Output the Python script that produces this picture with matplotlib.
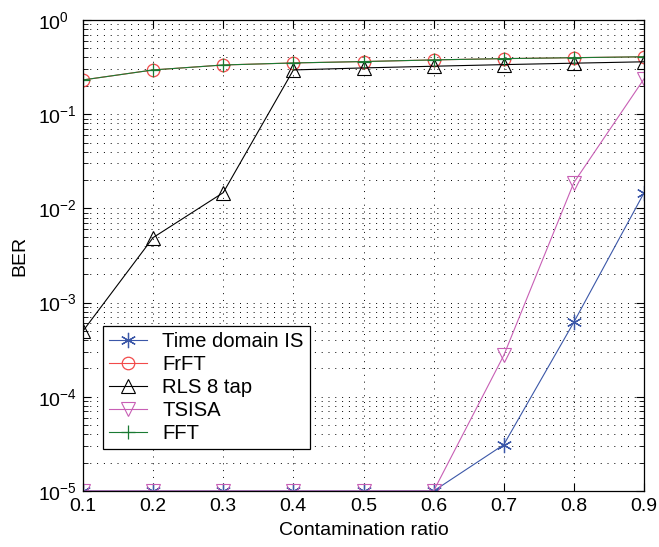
import matplotlib
matplotlib.use("Agg")
import matplotlib.pyplot as plt
from matplotlib.ticker import LogLocator, NullFormatter

plt.rcParams['font.family'] = ['Liberation Sans', 'DejaVu Sans']
plt.rcParams['mathtext.fontset'] = 'custom'
plt.rcParams['mathtext.rm'] = 'Liberation Sans'
plt.rcParams['mathtext.it'] = 'Liberation Sans:italic'

x = [0.1, 0.2, 0.3, 0.4, 0.5, 0.6, 0.7, 0.8, 0.9]
time_is = [1e-5, 1e-5, 1e-5, 1e-5, 1e-5, 1e-5, 3.1e-5, 6.2e-4, 0.0146]
frft = [0.231, 0.295, 0.333, 0.35, 0.362, 0.377, 0.389, 0.398, 0.407]
rls = [5.0e-4, 4.9e-3, 0.0147, 0.295, 0.31, 0.323, 0.336, 0.348, 0.36]
tsisa = [1e-5, 1e-5, 1e-5, 1e-5, 1e-5, 1e-5, 2.75e-4, 0.0188, 0.237]
fft = [0.231, 0.295, 0.333, 0.35, 0.362, 0.377, 0.389, 0.398, 0.407]
labels = ['Time domain IS', 'FrFT', 'RLS 8 tap', 'TSISA', 'FFT']
xticks = [0.1, 0.2, 0.3, 0.4, 0.5, 0.6, 0.7, 0.8, 0.9]

W, H = 659, 547
fig = plt.figure(figsize=(W / 100, H / 100), dpi=100)
L, R, T, B = 83, 644, 20, 491
ax = fig.add_axes([L / W, 1 - B / H, (R - L) / W, (B - T) / H])

lw = 0.8
ax.plot(x, time_is, color='#3b57a8', marker=(6, 2, 0), ms=11, mew=0.9, lw=lw, label=labels[0])
ax.plot(x, frft, color='#f24a4a', marker='o', ms=9, mfc='none', mew=0.9, lw=lw, label=labels[1])
ax.plot(x, rls, color='black', marker='^', ms=10, mfc='none', mew=0.8, lw=lw, label=labels[2])
ax.plot(x, tsisa, color='#c85fb5', marker='v', ms=10, mfc='none', mew=0.8, lw=lw, label=labels[3])
ax.plot(x, fft, color='#1a7a33', marker='+', ms=10, mew=0.9, lw=lw, label=labels[4])

ax.set_yscale('log')
ax.set_xlim(0.1, 0.9)
ax.set_ylim(1e-5, 1)
ax.set_xticks(xticks)
ax.set_xticklabels([f'{v:.1f}' for v in xticks])
ax.yaxis.set_major_locator(LogLocator(base=10, numticks=10))
ax.yaxis.set_minor_locator(LogLocator(base=10, subs=range(2, 10), numticks=10))
ax.yaxis.set_minor_formatter(NullFormatter())

ax.tick_params(which='both', direction='in', top=True, right=True, labelsize=14)
ax.tick_params(which='major', length=6, width=0.8)
ax.tick_params(which='minor', length=3.5, width=0.6)
ax.tick_params(axis='x', pad=5)
ax.tick_params(axis='y', pad=32.5)
for lab in ax.get_yticklabels():
    lab.set_horizontalalignment('left')
ax.grid(True, which='major', linestyle=(0, (1, 6)), color='black', linewidth=0.7)
ax.grid(True, which='minor', axis='y', linestyle=(0, (1, 6)), color='black', linewidth=0.7)

for s in ax.spines.values():
    s.set_linewidth(0.9)

ax.set_xlabel('Contamination ratio', fontsize=14, labelpad=5)
ax.set_ylabel('BER', fontsize=14, labelpad=7)

leg = ax.legend(loc='lower left', bbox_to_anchor=(0.035, 0.089), borderaxespad=0,
                fontsize=14.6, frameon=True, fancybox=False, edgecolor='black',
                framealpha=1, borderpad=0.3, labelspacing=0.2,
                handlelength=1.9, handletextpad=0.75)
leg.get_frame().set_linewidth(0.9)

fig.savefig('out.png', dpi=100)
